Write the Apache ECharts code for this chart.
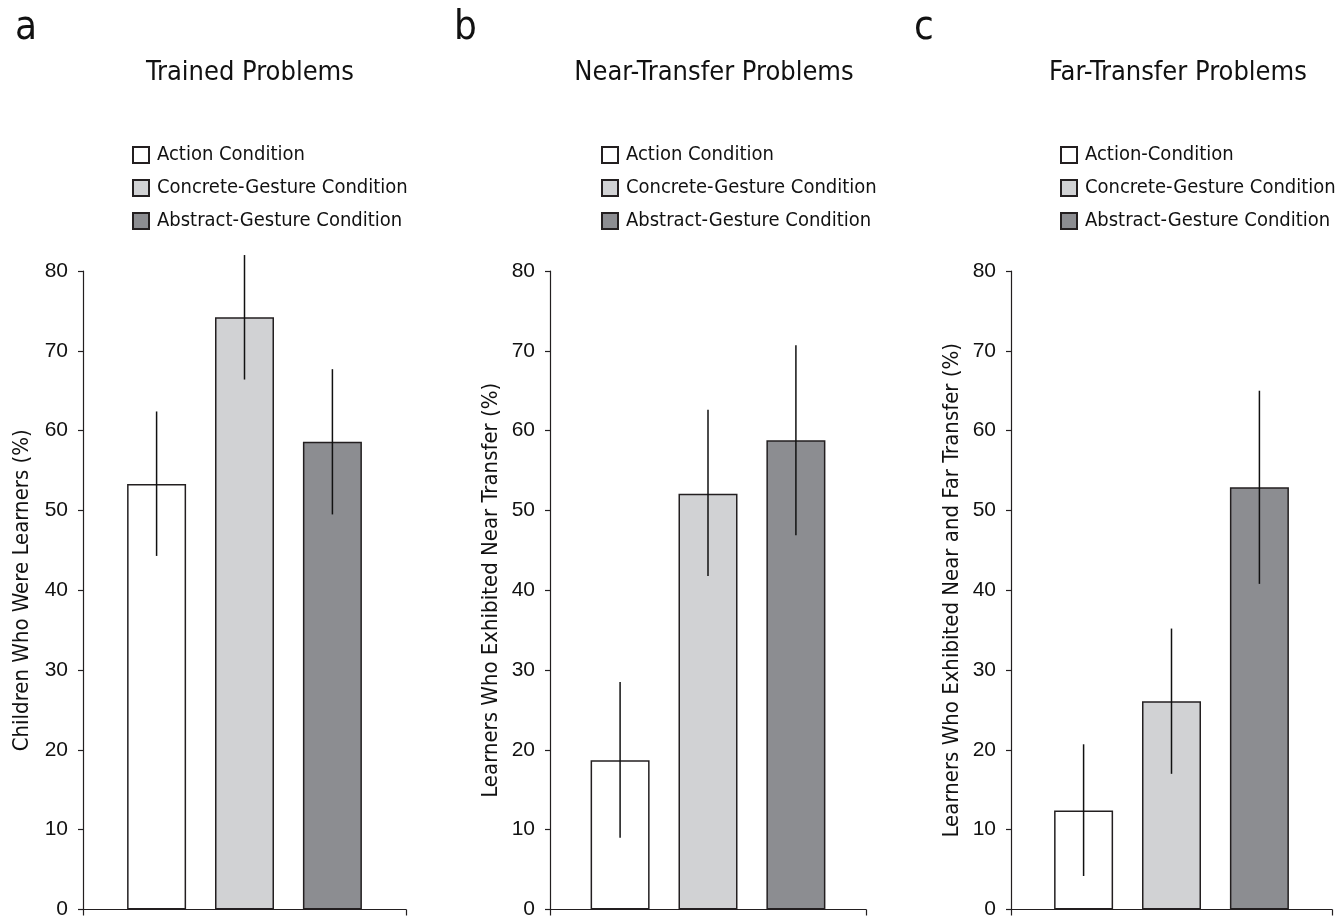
<!DOCTYPE html>
<html><head><meta charset="utf-8">
<script src="https://cdn.jsdelivr.net/npm/echarts@6/dist/echarts.min.js"></script>
<style>html,body{margin:0;padding:0;background:#fff}#c{width:1337px;height:920px}</style>
</head><body><div id="c"></div>
<script>
// ---- data ----
const conditionsAB = ['Action Condition', 'Concrete-Gesture Condition', 'Abstract-Gesture Condition'];
const conditionsC = ['Action-Condition', 'Concrete-Gesture Condition', 'Abstract-Gesture Condition'];
const panelLetters = ['a', 'b', 'c'];
const panelTitles = ['Trained Problems', 'Near-Transfer Problems', 'Far-Transfer Problems'];
const axisNames = ['Children Who Were Learners (%)', 'Learners Who Exhibited Near Transfer (%)', 'Learners Who Exhibited Near and Far Transfer (%)'];
const yTicks = [0, 10, 20, 30, 40, 50, 60, 70, 80];

const trainedMean = [53.3, 74.2, 58.6];
const trainedLow = [44.3, 66.4, 49.5];
const trainedHigh = [62.4, 82.0, 67.7];

const nearMean = [18.7, 52.1, 58.8];
const nearLow = [9.0, 41.8, 46.9];
const nearHigh = [28.5, 62.6, 70.7];

const farMean = [12.4, 26.1, 52.9];
const farLow = [4.2, 17.0, 40.8];
const farHigh = [20.7, 35.2, 65.0];

// ---- styling ----
const fills = ['#ffffff', '#d1d2d4', '#8c8d91'];
const edge = '#231f20';
const narrow = '"Liberation Sans Narrow", "DejaVu Sans Condensed", sans-serif';
const regular = '"Liberation Sans", Arial, sans-serif';
const BAR_W = 59;
const GAP_PCT = 0.49;

const panels = [
  { names: conditionsAB, mean: trainedMean, low: trainedLow, high: trainedHigh, left: 83, width: 323, legendLeft: 127, nameGap: 50, titleX: 245, letterX: 10 },
  { names: conditionsAB, mean: nearMean, low: nearLow, high: nearHigh, left: 550, width: 316, legendLeft: 596, nameGap: 48, titleX: 709, letterX: 449 },
  { names: conditionsC, mean: farMean, low: farLow, high: farHigh, left: 1011, width: 321, legendLeft: 1055, nameGap: 48, titleX: 1173, letterX: 909 }
];

const grids = [], xAxes = [], yAxes = [], series = [], legends = [], titles = [];
panels.forEach((p, pi) => {
  grids.push({ left: p.left, top: 271, width: p.width, height: 639 });
  xAxes.push({
    gridIndex: pi, type: 'category', data: [''],
    axisLine: { lineStyle: { color: edge, width: 1.2 } },
    axisTick: { show: true, length: 6, lineStyle: { color: edge, width: 1.2 } },
    axisLabel: { show: false }
  });
  yAxes.push({
    gridIndex: pi, type: 'value', min: yTicks[0], max: yTicks[yTicks.length - 1], interval: yTicks[1] - yTicks[0],
    name: axisNames[pi], nameLocation: 'middle', nameGap: p.nameGap, nameRotate: 90,
    nameTextStyle: { fontFamily: narrow, fontSize: 22, color: '#111' },
    axisLine: { show: true, lineStyle: { color: edge, width: 1.2 } },
    axisTick: { show: true, length: 5, lineStyle: { color: edge, width: 1.2 } },
    axisLabel: { fontFamily: regular, fontSize: 21, color: '#111', margin: 15 },
    splitLine: { show: false }
  });
  p.names.forEach((nm, si) => {
    series.push({
      type: 'bar', name: nm, xAxisIndex: pi, yAxisIndex: pi,
      data: [p.mean[si]], barWidth: BAR_W, barGap: (GAP_PCT * 100) + '%',
      itemStyle: { color: fills[si], borderColor: edge, borderWidth: 1.5 },
      emphasis: { disabled: true }, z: 2
    });
  });
  const errData = p.mean.map((m, si) => [0, p.low[si], p.high[si], si]);
  series.push({
    type: 'custom', xAxisIndex: pi, yAxisIndex: pi, clip: false, z: 5,
    data: errData,
    encode: { x: 0, y: [1, 2] },
    renderItem: function (params, api) {
      const idx = api.value(3);
      const lo = api.coord([api.value(0), api.value(1)]);
      const hi = api.coord([api.value(0), api.value(2)]);
      const off = (idx - 1) * (BAR_W * (1 + GAP_PCT));
      const x = lo[0] + off;
      return { type: 'line', shape: { x1: x, y1: lo[1], x2: x, y2: hi[1] }, style: { stroke: '#111', lineWidth: 1.5 } };
    },
    silent: true
  });
  legends.push({
    data: p.names.map(n => ({ name: n })),
    orient: 'vertical', left: p.legendLeft, top: 140,
    itemWidth: 16, itemHeight: 16, itemGap: 13, icon: 'rect',
    selectedMode: false,
    textStyle: { fontFamily: narrow, fontSize: 20, color: '#111', padding: [0, 0, 0, 3] }
  });
  titles.push({ text: panelLetters[pi], left: p.letterX, top: 4,
    textStyle: { fontFamily: narrow, fontSize: 40, fontWeight: 'normal', color: '#111' } });
  titles.push({ text: panelTitles[pi], left: p.titleX, top: 54, textAlign: 'center',
    textStyle: { fontFamily: narrow, fontSize: 27, fontWeight: 'normal', color: '#111' } });
});

const chart = echarts.init(document.getElementById('c'), null, { renderer: 'canvas' });
chart.setOption({
  animation: false, backgroundColor: '#fff',
  title: titles, legend: legends, grid: grids, xAxis: xAxes, yAxis: yAxes, series: series
});
</script>
</body></html>
